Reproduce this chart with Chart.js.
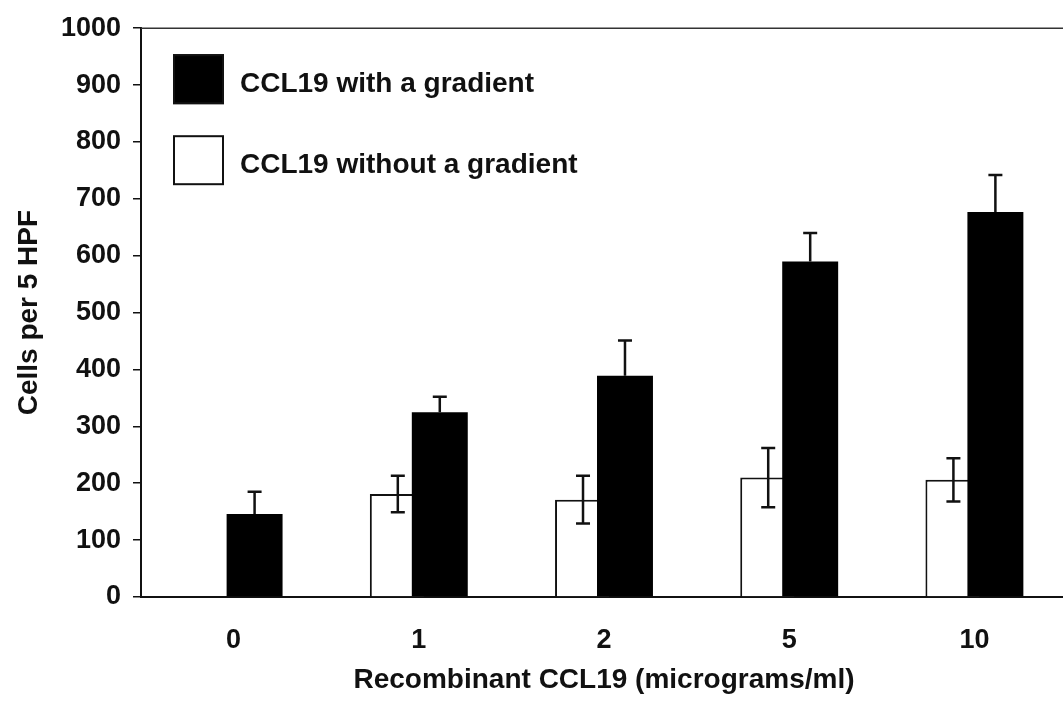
<!DOCTYPE html>
<html lang="en">
<head>
  <meta charset="UTF-8" />
  <title>CCL19 chemotaxis</title>
  <script src="https://cdn.jsdelivr.net/npm/chart.js"></script>
  <style>
    html, body { margin: 0; padding: 0; background: #fff; overflow: hidden; }
    .wrap { width: 1070px; height: 706px; }
  </style>
</head>
<body>
  <div class="wrap">
    <canvas id="cclChart" width="1070" height="706"></canvas>
  </div>

  <script>
    // values
    const doses = ["0", "1", "2", "5", "10"];
    const withGradient = [146, 325, 389, 590, 677];
    const withGradientErr = [39, 27, 62, 50, 65];
    const withoutGradient = [0, 181, 171, 210, 206];
    const withoutGradientErr = [0, 32, 42, 52, 38];
    const yTicks = [0, 100, 200, 300, 400, 500, 600, 700, 800, 900, 1000];

    const FONT = "'Liberation Sans', Arial, sans-serif";
    const INK = "#111";

    function drawErrors(chart, meta, values, errs, both) {
      const ctx = chart.ctx;
      const y = chart.scales.y;
      ctx.save();
      ctx.strokeStyle = INK;
      ctx.lineWidth = 2.5;
      meta.data.forEach((bar, i) => {
        if (!errs[i]) return;
        const top = y.getPixelForValue(values[i] + errs[i]);
        const bot = both ? y.getPixelForValue(values[i] - errs[i]) : bar.y;
        ctx.beginPath();
        ctx.moveTo(bar.x, top); ctx.lineTo(bar.x, bot);
        ctx.moveTo(bar.x - 7, top); ctx.lineTo(bar.x + 7, top);
        if (both) { ctx.moveTo(bar.x - 7, bot); ctx.lineTo(bar.x + 7, bot); }
        ctx.stroke();
      });
      ctx.restore();
    }

    // white bars go behind the black ones (overlapping pairs), each with its error bars
    const barsAndErrors = {
      id: "barsAndErrors",
      beforeDatasetsDraw(chart) {
        const white = chart.getDatasetMeta(0);
        const black = chart.getDatasetMeta(1);
        white.controller.draw();
        drawErrors(chart, white, withoutGradient, withoutGradientErr, true);
        black.controller.draw();
        drawErrors(chart, black, withGradient, withGradientErr, false);
        return false;
      }
    };

    // legend inside the plot, black entry first
    const boxLegend = {
      id: "boxLegend",
      afterDraw(chart) {
        const ctx = chart.ctx;
        const a = chart.chartArea;
        const entries = [chart.data.datasets[1], chart.data.datasets[0]];
        ctx.save();
        ctx.font = "bold 28px " + FONT;
        ctx.textBaseline = "middle";
        entries.forEach((ds, i) => {
          const bx = a.left + 32, by = a.top + 26 + i * 81;
          ctx.fillStyle = ds.backgroundColor;
          ctx.fillRect(bx, by, 51, 50);
          ctx.strokeStyle = INK;
          ctx.lineWidth = 2;
          ctx.strokeRect(bx + 1, by + 1, 49, 48);
          ctx.fillStyle = INK;
          ctx.fillText(ds.label, a.left + 99, by + 30);
        });
        // top edge of the plot frame
        ctx.strokeStyle = "#333";
        ctx.lineWidth = 1.5;
        ctx.beginPath();
        ctx.moveTo(a.left, a.top);
        ctx.lineTo(chart.width, a.top);
        ctx.stroke();
        ctx.restore();
      }
    };

    const ctx = document.getElementById("cclChart").getContext("2d");
    new Chart(ctx, {
      type: "bar",
      data: {
        labels: doses,
        datasets: [
          {
            label: "CCL19 without a gradient",
            data: withoutGradient,
            backgroundColor: "#fff",
            borderColor: INK,
            borderWidth: 2,
            categoryPercentage: 0.4533,
            barPercentage: 1.333
          },
          {
            label: "CCL19 with a gradient",
            data: withGradient,
            backgroundColor: "#000",
            borderWidth: 0,
            categoryPercentage: 0.4533,
            barPercentage: 1.333
          }
        ]
      },
      options: {
        responsive: false,
        animation: false,
        layout: { padding: { top: 25, right: 3, left: 0, bottom: 0 } },
        plugins: {
          legend: { display: false },
          tooltip: { enabled: false }
        },
        scales: {
          x: {
            grid: { display: false, drawTicks: false },
            border: { display: true, color: INK, width: 2 },
            ticks: {
              color: INK,
              padding: 27,
              font: { family: FONT, size: 27, weight: "bold" }
            },
            title: {
              display: true,
              text: "Recombinant CCL19 (micrograms/ml)",
              color: INK,
              padding: { top: 0, bottom: 9 },
              font: { family: FONT, size: 28, weight: "bold" }
            },
            afterFit(scale) { scale.height = 109; }
          },
          y: {
            min: 0,
            max: 1000,
            afterBuildTicks(scale) { scale.ticks = yTicks.map(v => ({ value: v })); },
            grid: { drawOnChartArea: false, drawTicks: true, tickLength: 8, color: INK, lineWidth: 1.5 },
            border: { display: true, color: INK, width: 2 },
            ticks: {
              color: INK,
              padding: 12,
              font: { family: FONT, size: 27, weight: "bold" },
              callback: (v) => String(v)
            },
            title: {
              display: true,
              text: "Cells per 5 HPF",
              color: INK,
              padding: { top: 12, bottom: 0 },
              font: { family: FONT, size: 28, weight: "bold" }
            },
            afterFit(scale) { scale.width = 141; }
          }
        }
      },
      plugins: [barsAndErrors, boxLegend]
    });
  </script>
</body>
</html>
